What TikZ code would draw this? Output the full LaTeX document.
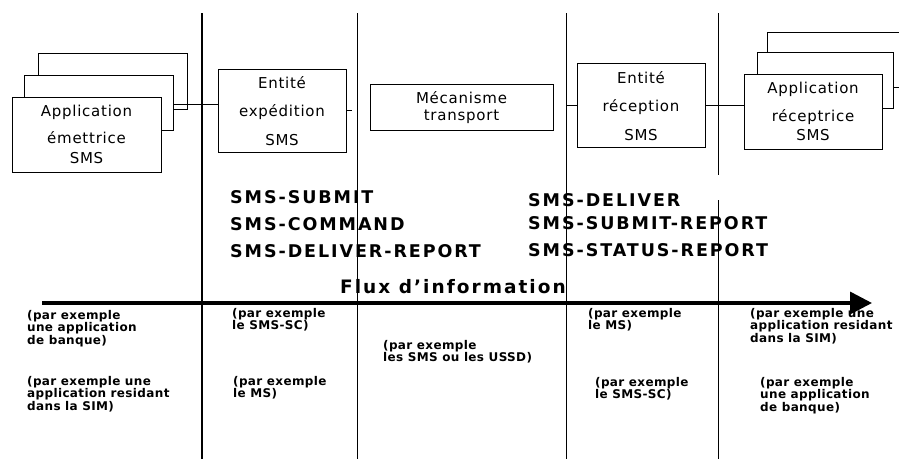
\documentclass[tikz,border=0pt]{standalone}
\usepackage{fontspec}
\setmainfont{DejaVu Sans}
\newfontfamily\bigf[LetterSpace=11]{DejaVu Sans Bold}
\newfontfamily\boxf[LetterSpace=5]{DejaVu Sans}
\newfontfamily\notef[LetterSpace=3]{DejaVu Sans Bold}
\usetikzlibrary{arrows.meta}
\tikzset{
  boxnode/.style={draw, line width=0.6pt, inner sep=0pt, outer sep=0pt, anchor=north west},
  stack/.style={line width=0.6pt},
  conn/.style={line width=0.6pt},
  vline/.style={line width=0.6pt},
  smstxt/.style={font=\bigf\fontsize{17.5}{17.5}\selectfont, anchor=base west, inner sep=0pt},
  boxtxt/.style={font=\boxf\fontsize{15}{15}\selectfont, inner sep=0pt},
  notetxt/.style={font=\notef\fontsize{12}{12.6}\selectfont, anchor=north west, align=left, inner sep=0pt},
  flow/.style={line width=3.6pt, -{Triangle[length=22pt,width=22pt]}}
}
\begin{document}
\begin{tikzpicture}[x=1pt,y=-1pt]
\useasboundingbox (0,0) rectangle (899,459);

% vertical separators
\coordinate (v1t) at (202,13); \coordinate (v1b) at (202,459);
\coordinate (v2t) at (357,13); \coordinate (v2b) at (357,459);
\coordinate (v3t) at (566,13); \coordinate (v3b) at (566,459);
\coordinate (v4t) at (718,13); \coordinate (v4m) at (718,175);
\coordinate (v4n) at (718,200); \coordinate (v4b) at (718,459);
\draw[vline, line width=1.1pt] (v1t) -- (v1b);
\draw[vline] (v2t) -- (v2b);
\draw[vline] (v3t) -- (v3b);
\draw[vline] (v4t) -- (v4m);
\draw[vline] (v4n) -- (v4b);

% left application stack
\draw[stack] (24,97) -- (24,75) -- (173,75) -- (173,130) -- (161,130);
\draw[stack] (38,75) -- (38,53) -- (187,53) -- (187,109) -- (173,109);
\node[boxnode, fill=white, line width=0.8pt, minimum width=149, minimum height=75] (app1) at (12,97) {};
\node[boxtxt] (app1a) at (86.5,112) {Application};
\node[boxtxt] (app1b) at (86.5,138) {émettrice};
\node[boxtxt] (app1c) at (86.5,158) {SMS};

% sending entity
\node[boxnode, minimum width=128, minimum height=83] (exp) at (218,69) {};
\node[boxtxt] (expa) at (282,83) {Entité};
\node[boxtxt] (expb) at (282,112) {expédition};
\node[boxtxt] (expc) at (282,140) {SMS};

% transport
\node[boxnode, minimum width=183, minimum height=46] (mec) at (370,84) {};
\node[boxtxt] (meca) at (461.5,98) {Mécanisme};
\node[boxtxt] (mecb) at (461.5,117) {transport};

% receiving entity
\node[boxnode, minimum width=128, minimum height=84] (rec) at (577,63) {};
\node[boxtxt] (reca) at (641,78) {Entité};
\node[boxtxt] (recb) at (641,107) {réception};
\node[boxtxt] (recc) at (641,135) {SMS};

% right application stack
\draw[stack] (757,74) -- (757,52) -- (893,52) -- (893,108) -- (882,108);
\draw[stack] (767,52) -- (767,32) -- (899,32);
\draw[stack] (893,87) -- (899,87);
\node[boxnode, fill=white, minimum width=138, minimum height=75] (app2) at (744,74) {};
\node[boxtxt] (app2a) at (813,89) {Application};
\node[boxtxt] (app2b) at (813,117) {réceptrice};
\node[boxtxt] (app2c) at (813,135) {SMS};

% connectors
\coordinate (s1) at (173,104);
\draw[conn] (s1) -- (s1 -| exp.west);
\draw[conn] (exp.east) -- ++(6,0);
\draw[conn] (rec.west) -- (rec.west -| v3t);
\draw[conn] (rec.east) -- (rec.east -| app2.west);

% message types
\node[smstxt] (m1) at (230,203) {SMS-SUBMIT};
\node[smstxt] (m2) at (230,230) {SMS-COMMAND};
\node[smstxt] (m3) at (230,257) {SMS-DELIVER-REPORT};
\node[smstxt] (m4) at (528,206) {SMS-DELIVER};
\node[smstxt] (m5) at (528,229) {SMS-SUBMIT-REPORT};
\node[smstxt] (m6) at (528,256) {SMS-STATUS-REPORT};
\node[smstxt, font=\bigf\fontsize{18.5}{18.5}\selectfont] (flux) at (340,293) {Flux d’information};

% information flow arrow
\coordinate (arrS) at (42,303);
\coordinate (arrE) at (872,303);
\draw[flow] (arrS) -- (arrE);

% examples
\node[notetxt] (n1) at (27,310) {(par exemple\\une application\\de banque)};
\node[notetxt] (n2) at (27,376) {(par exemple une\\application residant\\dans la SIM)};
\node[notetxt] (n3) at (232,308) {(par exemple\\le SMS-SC)};
\node[notetxt] (n4) at (233,376) {(par exemple\\le MS)};
\node[notetxt] (n5) at (383,340) {(par exemple\\les SMS ou les USSD)};
\node[notetxt] (n6) at (588,308) {(par exemple\\le MS)};
\node[notetxt] (n7) at (595,377) {(par exemple\\le SMS-SC)};
\node[notetxt] (n8) at (750,308) {(par exemple une\\application residant\\dans la SIM)};
\node[notetxt] (n9) at (760,377) {(par exemple\\une application\\de banque)};
\end{tikzpicture}
\end{document}
